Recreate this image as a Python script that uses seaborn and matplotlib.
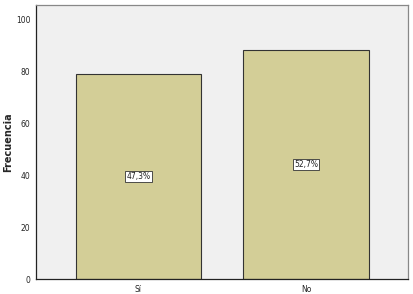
import matplotlib
matplotlib.use("Agg")
import matplotlib.pyplot as plt
import seaborn as sns
import pandas as pd

categorias = ["Sí", "No"]
frecuencias = [79, 88]
porcentajes = ["47,3%", "52,7%"]
y_ticks = [0, 20, 40, 60, 80, 100]

sns.set_style("white")
plt.rcParams['font.family'] = ['DejaVu Sans']

df = pd.DataFrame({"cat": categorias, "freq": frecuencias})

fig = plt.figure(figsize=(4.13, 2.94), dpi=100)
ax = fig.add_axes([0.087, 0.051, 0.901, 0.932])
ax.set_facecolor("#F0F0F0")

sns.barplot(data=df, x="cat", y="freq", order=categorias, color="#D3CE97",
            saturation=1, width=0.75, edgecolor="#333333", linewidth=0.8, ax=ax)

# etiquetas de porcentaje en el centro de cada barra
for bar, txt in zip(ax.patches, porcentajes):
    ax.text(bar.get_x() + bar.get_width() / 2, bar.get_height() / 2, txt,
            ha='center', va='center', fontsize=5.5, color='#222222',
            bbox=dict(boxstyle='square,pad=0.15', fc='white', ec='#333333', lw=0.6))

ax.set_xlim(-0.612, 1.609)
ax.set_ylim(0, 105.4)
ax.set_yticks(y_ticks)
ax.set_xlabel("")
ax.set_ylabel("Frecuencia", fontsize=7, fontweight='bold', labelpad=2)
ax.tick_params(axis='both', labelsize=5.5, length=3, width=0.8, color='#222222', pad=1)

for side in ['left', 'bottom']:
    ax.spines[side].set_color('#222222')
    ax.spines[side].set_linewidth(0.9)
for side in ['top', 'right']:
    ax.spines[side].set_visible(True)
    ax.spines[side].set_color('#888888')
    ax.spines[side].set_linewidth(0.9)

fig.savefig("out.png", dpi=100)
